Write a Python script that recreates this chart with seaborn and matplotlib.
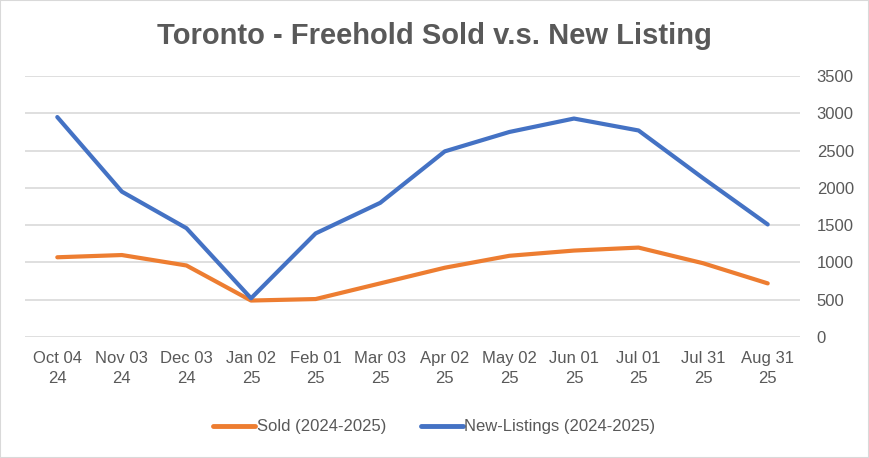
import numpy as np
import pandas as pd
import seaborn as sns
import matplotlib.pyplot as plt
import matplotlib.patches as mpatches

dates = ['Oct 04\n24', 'Nov 03\n24', 'Dec 03\n24', 'Jan 02\n25', 'Feb 01\n25', 'Mar 03\n25',
         'Apr 02\n25', 'May 02\n25', 'Jun 01\n25', 'Jul 01\n25', 'Jul 31\n25', 'Aug 31\n25']
sold = [1070, 1100, 960, 490, 510, 720, 930, 1090, 1160, 1200, 990, 720]
new_listings = [2950, 1950, 1460, 520, 1390, 1800, 2490, 2750, 2930, 2770, 2130, 1510]
series_names = ['Sold (2024-2025)', 'New-Listings (2024-2025)']
colors = ['#ED7D31', '#4472C4']

sns.set_theme(style='white')
plt.rcParams['font.family'] = ['Liberation Sans', 'DejaVu Sans']
text_color = '#595959'

df = pd.DataFrame({'日期': list(range(len(dates))) * 2,
                   '数量': sold + new_listings,
                   '系列': [series_names[0]] * len(dates) + [series_names[1]] * len(dates)})

fig = plt.figure(figsize=(8.69, 4.58), dpi=100)
fig.patches.append(mpatches.Rectangle((0, 0), 1, 1, transform=fig.transFigure,
                                      fill=False, edgecolor='#d9d9d9', linewidth=1.5))
ax = fig.add_axes([25 / 869, 0.264, 775 / 869, 0.570])

sns.lineplot(data=df, x='日期', y='数量', hue='系列', palette=colors, linewidth=3,
             ax=ax, legend=False)

ax.set_xlim(-0.5, len(dates) - 0.5)
ax.set_ylim(0, 3500)
ax.set_yticks(range(0, 3501, 500))
ax.set_xticks(range(len(dates)))
ax.set_xticklabels(dates, linespacing=1.45)
ax.yaxis.tick_right()
ax.tick_params(axis='both', colors=text_color, labelsize=12, length=0)
ax.tick_params(axis='y', pad=12)
ax.tick_params(axis='x', pad=10)
ax.grid(axis='y', color='#d9d9d9', linewidth=1.2)
ax.set_axisbelow(True)
for s in ax.spines.values():
    s.set_visible(False)
ax.set_xlabel('')
ax.set_ylabel('')

fig.text(0.5, 1 - 44 / 458, 'Toronto - Freehold Sold v.s. New Listing', ha='center', va='baseline',
         fontsize=21, fontweight='bold', color=text_color)

handles = [plt.Line2D([], [], color=c, linewidth=3.5) for c in colors]
fig.legend(handles, series_names, loc='center', bbox_to_anchor=(0.5, 1 - 427 / 458), ncol=2,
           frameon=False, fontsize=12, labelcolor=text_color, handlelength=2.5,
           handletextpad=0.1, columnspacing=2.1)

plt.savefig('out.png', dpi=100)
plt.close()
